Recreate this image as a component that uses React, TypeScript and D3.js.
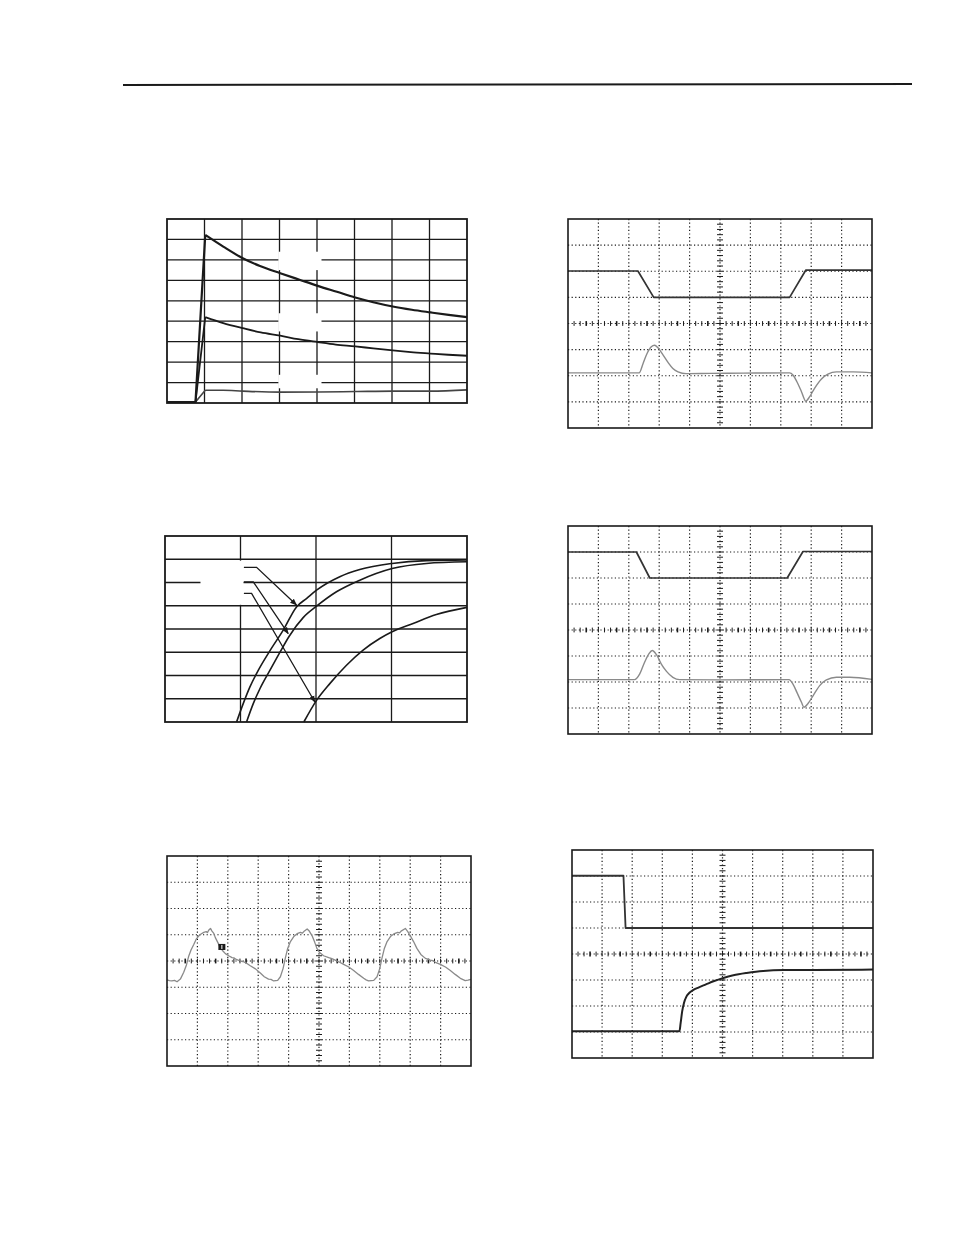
import React from 'react';
import * as d3 from 'd3';

type P = [number, number];

// ---------- Panel 1 (solid grid, 8 x 9) ----------
const p1Cols = 8;
const p1Rows = 9;
const p1Upper: P[] = [[0, 0.05], [0.76, 0.05], [1.02, 8.22], [1.5, 7.65], [2.02, 7.08], [2.48, 6.7], [3.02, 6.35], [3.55, 6.02], [4.02, 5.73], [4.53, 5.44], [5.02, 5.16], [5.5, 4.93], [6.02, 4.72], [6.53, 4.56], [7.03, 4.43], [7.51, 4.31], [8.0, 4.2]];
const p1Middle: P[] = [[0, 0.05], [0.76, 0.05], [1.02, 4.2], [1.5, 3.91], [2.02, 3.66], [2.5, 3.45], [3.02, 3.29], [3.5, 3.12], [4.02, 2.98], [4.5, 2.86], [5.02, 2.77], [5.5, 2.67], [6.02, 2.57], [6.5, 2.49], [7.03, 2.42], [7.5, 2.36], [8.0, 2.31]];
const p1Lower: P[] = [[0, 0.05], [0.76, 0.05], [1.02, 0.62], [1.5, 0.62], [2.02, 0.58], [3.02, 0.53], [4.02, 0.54], [5.02, 0.56], [6.02, 0.58], [7.03, 0.58], [8.0, 0.64]];
const p1Masks: [number, number, number, number][] = [[2.97, 4.12, 6.5, 7.4], [2.97, 4.12, 3.5, 4.39], [2.97, 4.12, 0.72, 1.38]];

// ---------- Panel 2 (solid grid, 4 x 8) ----------
const p2Cols = 4;
const p2Rows = 8;
const p2CurveA: P[] = [[0.948, 0], [1.036, 0.79], [1.125, 1.51], [1.235, 2.22], [1.389, 3.06], [1.566, 3.95], [1.742, 4.95], [1.874, 5.31], [2.007, 5.67], [2.315, 6.25], [2.58, 6.56], [3.008, 6.82], [3.462, 6.94], [4.0, 6.97]];
const p2CurveB: P[] = [[1.08, 0], [1.169, 0.79], [1.257, 1.43], [1.389, 2.22], [1.521, 2.99], [1.645, 3.69], [1.83, 4.49], [2.007, 4.98], [2.271, 5.6], [2.58, 6.1], [3.008, 6.6], [3.462, 6.82], [4.0, 6.89]];
const p2CurveC: P[] = [[1.839, 0], [2.007, 0.93], [2.183, 1.65], [2.404, 2.44], [2.624, 3.09], [2.845, 3.59], [3.008, 3.88], [3.286, 4.24], [3.594, 4.62], [4.0, 4.93]];
const p2Leaders: P[][] = [
  [[1.045, 6.65], [1.213, 6.65], [1.742, 5.03]],
  [[1.045, 6.03], [1.169, 6.03], [1.632, 3.8]],
  [[1.045, 5.53], [1.147, 5.53], [1.985, 0.86]],
];
const p2Masks: [number, number, number, number][] = [[0.47, 1.04, 5.04, 6.94]];

// ---------- Panel 3 (scope) ----------
const p3Trace: P[] = [[0, -0.72], [0.08, -0.75], [0.16, -0.76], [0.25, -0.74], [0.33, -0.79], [0.44, -0.69], [0.55, -0.43], [0.64, -0.15], [0.71, 0.17], [0.79, 0.42], [0.88, 0.63], [0.96, 0.83], [1.04, 0.95], [1.12, 1.03], [1.21, 1.09], [1.29, 1.12], [1.33, 1.08], [1.37, 1.17], [1.43, 1.24], [1.48, 1.14], [1.54, 1.05], [1.59, 0.89], [1.67, 0.71], [1.75, 0.52], [1.84, 0.38], [1.92, 0.28], [2.03, 0.2], [2.14, 0.13], [2.2, 0.12], [2.28, 0.06], [2.41, 0], [2.5, -0.02], [2.58, -0.06], [2.74, -0.18], [2.91, -0.3], [3.07, -0.46], [3.2, -0.6], [3.34, -0.69], [3.42, -0.7], [3.51, -0.76], [3.64, -0.74], [3.73, -0.6], [3.82, -0.28], [3.89, 0.1], [3.97, 0.48], [4.06, 0.74], [4.17, 0.93], [4.28, 1.04], [4.39, 1.09], [4.45, 1.06], [4.5, 1.12], [4.61, 1.22], [4.68, 1.14], [4.77, 0.97], [4.86, 0.71], [4.93, 0.48], [5.02, 0.32], [5.15, 0.2], [5.32, 0.13], [5.4, 0.1], [5.48, 0.06], [5.65, -0.03], [5.81, -0.13], [5.98, -0.23], [6.14, -0.36], [6.3, -0.51], [6.47, -0.66], [6.55, -0.72], [6.63, -0.76], [6.8, -0.74], [6.91, -0.6], [7.0, -0.28], [7.07, 0.1], [7.15, 0.48], [7.24, 0.74], [7.35, 0.93], [7.46, 1.03], [7.59, 1.09], [7.65, 1.07], [7.7, 1.14], [7.84, 1.24], [7.92, 1.12], [8.0, 0.97], [8.11, 0.74], [8.22, 0.48], [8.35, 0.25], [8.5, 0.1], [8.66, 0.03], [8.75, 0.01], [8.83, -0.05], [8.99, -0.13], [9.16, -0.23], [9.32, -0.36], [9.48, -0.51], [9.65, -0.66], [9.81, -0.75], [9.9, -0.73], [10, -0.7]];
const p3Marker: [number, number, number, number] = [1.69, 1.92, 0.42, 0.65];

// ---------- Panel 4 (scope) ----------
const p4Trace1: P[] = [[0, 2.01], [2.3, 2.01], [2.82, 1.0], [7.29, 1.0], [7.82, 2.04], [10, 2.04]];
const p4Trace2: P[] = [[0, -1.89], [2.34, -1.89], [2.47, -1.53], [2.6, -1.15], [2.74, -0.89], [2.85, -0.83], [2.96, -0.93], [3.13, -1.21], [3.29, -1.49], [3.45, -1.72], [3.62, -1.85], [3.89, -1.92], [4.66, -1.91], [5.76, -1.9], [7.29, -1.89], [7.4, -1.97], [7.53, -2.23], [7.68, -2.61], [7.82, -2.97], [7.95, -2.8], [8.11, -2.48], [8.33, -2.13], [8.55, -1.94], [8.83, -1.85], [9.38, -1.85], [10, -1.89]];

// ---------- Panel 5 (scope) ----------
const p5Trace1: P[] = [[0, 3.0], [2.25, 3.0], [2.69, 2.0], [7.21, 2.0], [7.73, 3.02], [10, 3.02]];
const p5Trace2: P[] = [[0, -1.91], [2.19, -1.91], [2.36, -1.69], [2.52, -1.24], [2.66, -0.92], [2.77, -0.79], [2.91, -0.95], [3.07, -1.31], [3.24, -1.59], [3.45, -1.82], [3.67, -1.91], [4.99, -1.92], [7.27, -1.91], [7.4, -2.08], [7.53, -2.4], [7.68, -2.78], [7.76, -2.97], [7.9, -2.82], [8.06, -2.53], [8.28, -2.14], [8.5, -1.92], [8.83, -1.82], [9.27, -1.82], [10, -1.9]];

// ---------- Panel 6 (scope) ----------
const p6Trace1: P[] = [[0, 3.01], [1.71, 3.01], [1.78, 1.0], [10, 1.0]];
const p6Trace2: P[] = [[0, -2.97], [3.57, -2.97], [3.61, -2.65], [3.66, -2.21], [3.72, -1.88], [3.8, -1.64], [3.9, -1.49], [4.02, -1.39], [4.2, -1.29], [4.45, -1.17], [4.7, -1.05], [5.03, -0.92], [5.36, -0.82], [5.8, -0.73], [6.35, -0.65], [7.02, -0.62], [8.01, -0.62], [10, -0.6]];

const INK = '#1a1a1a';

type Box = { x: number; y: number; w: number; h: number };
type Curve = { pts: P[]; color: string; width: number; smooth?: boolean; sharpUntil?: number };

function SolidPanel({ box, cols, rows, curves, masks, leaders, id }: {
  box: Box; cols: number; rows: number; curves: Curve[];
  masks: [number, number, number, number][]; leaders?: P[][]; id: string;
}) {
  const xs = d3.scaleLinear().domain([0, cols]).range([box.x, box.x + box.w]);
  const ys = d3.scaleLinear().domain([0, rows]).range([box.y + box.h, box.y]);
  const smooth = d3.line<P>().x(d => xs(d[0])).y(d => ys(d[1])).curve(d3.curveMonotoneX);
  const straight = d3.line<P>().x(d => xs(d[0])).y(d => ys(d[1]));
  const pathFor = (c: Curve) => {
    const k = c.sharpUntil || 0;
    if (k > 0) return (straight(c.pts.slice(0, k + 1)) || '') + ' ' + (smooth(c.pts.slice(k)) || '');
    return smooth(c.pts) || '';
  };
  return (
    <g>
      <defs>
        <marker id={`arr-${id}`} viewBox="0 0 10 10" refX="9" refY="5" markerWidth="7" markerHeight="7" orient="auto" markerUnits="userSpaceOnUse">
          <path d="M0,1 L10,5 L0,9 Z" fill={INK} />
        </marker>
      </defs>
      {d3.range(1, cols).map(i => (
        <line key={`v${i}`} x1={xs(i)} x2={xs(i)} y1={box.y} y2={box.y + box.h} stroke={INK} strokeWidth={1.3} />
      ))}
      {d3.range(1, rows).map(i => (
        <line key={`h${i}`} x1={box.x} x2={box.x + box.w} y1={ys(i)} y2={ys(i)} stroke={INK} strokeWidth={1.3} />
      ))}
      {masks.map((m, i) => (
        <rect key={`m${i}`} x={xs(m[0])} y={ys(m[3])} width={xs(m[1]) - xs(m[0])} height={ys(m[2]) - ys(m[3])} fill="#fff" />
      ))}
      {curves.map((c, i) => (
        <path key={`c${i}`} d={pathFor(c)} fill="none" stroke={c.color} strokeWidth={c.width} strokeLinejoin="round" />
      ))}
      {(leaders || []).map((l, i) => (
        <path key={`l${i}`} d={straight(l) || ''} fill="none" stroke={INK} strokeWidth={1.3} markerEnd={`url(#arr-${id})`} />
      ))}
      <rect x={box.x} y={box.y} width={box.w} height={box.h} fill="none" stroke={INK} strokeWidth={1.8} />
    </g>
  );
}

function Scope({ box, traces, marker }: {
  box: Box; traces: Curve[]; marker?: [number, number, number, number];
}) {
  const xs = d3.scaleLinear().domain([0, 10]).range([box.x, box.x + box.w]);
  const ys = d3.scaleLinear().domain([-4, 4]).range([box.y + box.h, box.y]);
  const line = d3.line<P>().x(d => xs(d[0])).y(d => ys(d[1]));
  const smooth = d3.line<P>().x(d => xs(d[0])).y(d => ys(d[1])).curve(d3.curveMonotoneX);
  const dots = '1.2 2.4';
  const hTicks = d3.range(0, 50).map(i => i * 0.2).filter(v => v > 0.05 && v < 9.95);
  const vTicks = d3.range(0, 40).map(i => -4 + i * 0.2).filter(v => v > -3.95 && v < 3.95);
  return (
    <g>
      {d3.range(1, 10).map(i => (
        <line key={`v${i}`} x1={xs(i)} x2={xs(i)} y1={box.y} y2={box.y + box.h} stroke={INK} strokeWidth={1.2} strokeDasharray={dots} />
      ))}
      {d3.range(-3, 4).map(i => (
        <line key={`h${i}`} x1={box.x} x2={box.x + box.w} y1={ys(i)} y2={ys(i)} stroke={INK} strokeWidth={1.2} strokeDasharray={dots} />
      ))}
      {hTicks.map((t, i) => (
        <line key={`ht${i}`} x1={xs(t)} x2={xs(t)} y1={ys(0) - 2.4} y2={ys(0) + 2.4} stroke={INK} strokeWidth={i % 5 === 2 ? 1.6 : 1} />
      ))}
      {vTicks.map((t, i) => (
        <line key={`vt${i}`} x1={xs(5) - 3} x2={xs(5) + 3} y1={ys(t)} y2={ys(t)} stroke={INK} strokeWidth={1} />
      ))}
      {traces.map((t, i) => (
        <path key={`t${i}`} d={(t.smooth ? smooth : line)(t.pts) || ''} fill="none" stroke={t.color} strokeWidth={t.width} strokeLinejoin="round" />
      ))}
      {marker && (
        <g>
          <rect x={xs(marker[0])} y={ys(marker[3])} width={xs(marker[1]) - xs(marker[0])} height={ys(marker[2]) - ys(marker[3])} fill={INK} />
          <line x1={(xs(marker[0]) + xs(marker[1])) / 2} x2={(xs(marker[0]) + xs(marker[1])) / 2} y1={ys(marker[3]) + 1} y2={ys(marker[2]) - 1} stroke="#fff" strokeWidth={1} />
        </g>
      )}
      <rect x={box.x} y={box.y} width={box.w} height={box.h} fill="none" stroke={INK} strokeWidth={1.6} />
    </g>
  );
}

export default function App() {
  return (
    <svg width={954} height={1235} viewBox="0 0 954 1235" style={{ position: 'absolute', left: 0, top: 0, background: '#fff' }}>
      <rect x={0} y={0} width={954} height={1235} fill="#fff" />
      <line x1={123} y1={85} x2={912} y2={84} stroke={INK} strokeWidth={2} />
      <SolidPanel id="p1" box={{ x: 167, y: 219, w: 300, h: 184 }} cols={p1Cols} rows={p1Rows} masks={p1Masks}
        curves={[
          { pts: p1Lower, color: '#444', width: 1.6, sharpUntil: 2 },
          { pts: p1Middle, color: INK, width: 1.8, sharpUntil: 2 },
          { pts: p1Upper, color: INK, width: 2.2, sharpUntil: 2 },
        ]} />
      <SolidPanel id="p2" box={{ x: 165, y: 536, w: 302, h: 186 }} cols={p2Cols} rows={p2Rows} masks={p2Masks}
        leaders={p2Leaders}
        curves={[
          { pts: p2CurveA, color: INK, width: 1.6 },
          { pts: p2CurveB, color: INK, width: 1.6 },
          { pts: p2CurveC, color: INK, width: 1.6 },
        ]} />
      <Scope box={{ x: 167, y: 856, w: 304, h: 210 }} marker={p3Marker}
        traces={[{ pts: p3Trace, color: '#8a8a8a', width: 1.3 }]} />
      <Scope box={{ x: 568, y: 219, w: 304, h: 209 }}
        traces={[
          { pts: p4Trace2, color: '#8a8a8a', width: 1.4, smooth: true },
          { pts: p4Trace1, color: '#333', width: 1.7 },
        ]} />
      <Scope box={{ x: 568, y: 526, w: 304, h: 208 }}
        traces={[
          { pts: p5Trace2, color: '#8a8a8a', width: 1.4, smooth: true },
          { pts: p5Trace1, color: '#333', width: 1.7 },
        ]} />
      <Scope box={{ x: 572, y: 850, w: 301, h: 208 }}
        traces={[
          { pts: p6Trace2, color: '#222', width: 2, smooth: true },
          { pts: p6Trace1, color: '#333', width: 1.8 },
        ]} />
    </svg>
  );
}
